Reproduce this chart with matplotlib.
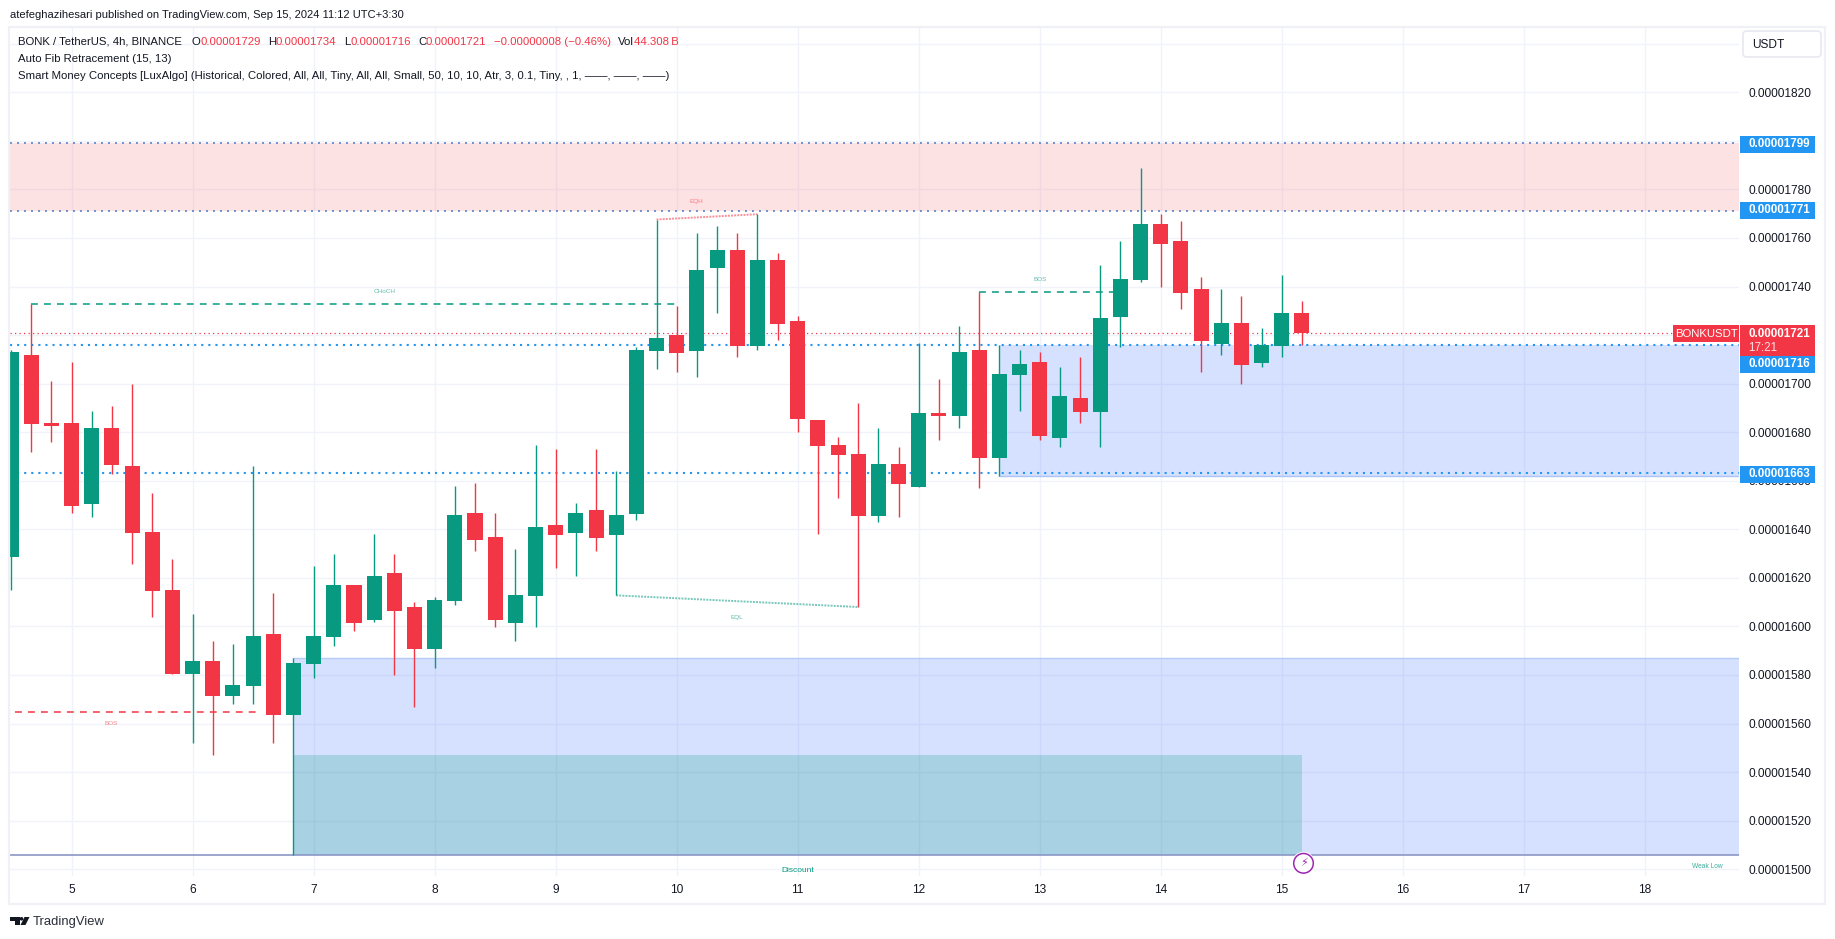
import matplotlib
matplotlib.use("Agg")
import matplotlib.pyplot as plt
from matplotlib.patches import Rectangle, FancyBboxPatch, Circle, Polygon
from matplotlib.transforms import Affine2D
import numpy as np

W, H = 1835, 939
FONT = "Liberation Sans"
GREEN = "#089981"
RED = "#f23645"
BLUE = "#2196f3"
INK = "#131722"
GRID = "#f0f3fa"

# prices are in units of 0.00000001
opens = [1628.7, 1711.8, 1683.8, 1683.8, 1650.4, 1681.7, 1666.1, 1638.9, 1615.0, 1580.4, 1585.8, 1571.4, 1575.5, 1596.9, 1563.5,
         1584.5, 1595.7, 1617.1, 1602.7, 1622.0, 1608.0, 1590.7, 1610.5, 1646.7, 1636.8, 1601.4, 1612.5, 1641.8, 1638.5, 1648.0,
         1637.7, 1646.3, 1713.4, 1720.0, 1713.4, 1747.6, 1755.0, 1715.5, 1750.9, 1725.8, 1685.0, 1674.7, 1671.0, 1645.4, 1666.9,
         1657.4, 1687.9, 1686.6, 1713.8, 1669.3, 1703.5, 1708.9, 1677.6, 1694.1, 1688.3, 1727.4, 1742.7, 1765.7, 1758.7, 1738.9,
         1716.3, 1725.0, 1708.5, 1715.5, 1729.0]
closes = [1713.0, 1683.4, 1682.6, 1649.6, 1681.7, 1666.5, 1638.5, 1614.6, 1580.4, 1585.8, 1571.4, 1575.9, 1596.1, 1563.5, 1585.0,
          1596.1, 1617.1, 1601.4, 1620.8, 1606.4, 1590.7, 1610.9, 1645.9, 1635.6, 1602.7, 1613.0, 1641.0, 1637.7, 1646.7, 1636.4,
          1645.9, 1713.8, 1718.8, 1712.6, 1746.8, 1755.0, 1715.5, 1750.9, 1724.5, 1685.4, 1674.3, 1670.6, 1645.4, 1666.9, 1658.6,
          1687.9, 1686.6, 1713.0, 1669.3, 1703.9, 1708.1, 1678.4, 1694.9, 1688.3, 1727.0, 1743.1, 1765.7, 1757.5, 1737.3, 1717.5,
          1725.0, 1707.7, 1715.9, 1729.1, 1721.0]
highs = [1713.9, 1732.8, 1701.1, 1708.9, 1688.7, 1690.8, 1699.9, 1655.0, 1627.8, 1605.1, 1594.0, 1592.8, 1666.1, 1613.8, 1587.0,
         1624.9, 1629.8, 1617.1, 1638.1, 1629.8, 1610.1, 1612.1, 1657.8, 1659.1, 1646.7, 1631.9, 1674.7, 1673.1, 1650.8, 1673.1,
         1664.0, 1715.1, 1767.6, 1731.9, 1762.0, 1764.9, 1762.0, 1769.8, 1753.8, 1727.8, 1685.0, 1678.0, 1692.0, 1681.7, 1673.9,
         1716.7, 1701.9, 1723.7, 1737.6, 1715.9, 1713.8, 1713.0, 1706.8, 1710.9, 1748.8, 1758.7, 1788.8, 1769.8, 1767.0, 1743.9,
         1738.9, 1736.1, 1722.9, 1744.7, 1734.0]
lows = [1615.0, 1671.9, 1676.0, 1646.7, 1645.1, 1662.8, 1625.7, 1603.9, 1580.4, 1552.0, 1547.1, 1568.1, 1568.1, 1552.0, 1505.9,
        1578.8, 1592.0, 1598.1, 1601.8, 1580.0, 1566.8, 1582.9, 1608.8, 1631.1, 1599.8, 1594.0, 1599.8, 1624.1, 1620.8, 1631.1,
        1613.0, 1643.8, 1706.0, 1704.8, 1702.7, 1729.1, 1710.9, 1713.8, 1717.9, 1680.0, 1638.0, 1652.9, 1608.0, 1643.0, 1645.0,
        1657.4, 1676.8, 1681.7, 1657.0, 1661.9, 1688.7, 1676.8, 1673.9, 1683.8, 1673.9, 1715.1, 1741.8, 1739.8, 1730.7, 1704.8,
        1711.8, 1699.8, 1706.8, 1711.0, 1716.0]
first_bar = -3

day_labels = ["5", "6", "7", "8", "9", "10", "11", "12", "13", "14", "15", "16", "17", "18"]
bars_per_day = 6
price_ticks = [1500, 1520, 1540, 1560, 1580, 1600, 1620, 1640, 1660, 1680, 1700, 1720, 1740, 1760, 1780, 1820, 1800, 1840]
price_labels_hidden = [1800, 1840]

fib_levels = [1799, 1771, 1716, 1663]
last_price = 1721
zone_bottom = 1505.9

plt.rcParams["font.family"] = [FONT, "DejaVu Sans"]
fig = plt.figure(figsize=(W / 100, H / 100), dpi=100, facecolor="white")
px = Affine2D().scale(1, -1).translate(0, H)  # top-left pixel coordinates, for the page furniture

ax = fig.add_axes([9.5 / W, 1 - 876 / H, (1739 - 9.5) / W, (876 - 28) / H])
ax.set_xlim(-3.08, 82.67)
ax.set_ylim(1497.2, 1846.5)
ax.set_axisbelow(True)
ax.grid(True, color=GRID, lw=1.0)
for s in ax.spines.values():
    s.set_visible(False)

ax.set_xticks(np.arange(len(day_labels)) * bars_per_day)
ax.set_xticklabels(day_labels, fontsize=8.6, color=INK)
ax.yaxis.tick_right()
ax.set_yticks(price_ticks)
ax.set_yticklabels(["" if p in price_labels_hidden else "0.0000%d" % p for p in price_ticks], fontsize=8.6, color=INK)
ax.tick_params(axis="both", length=0)
ax.tick_params(axis="y", pad=6.5)
ax.tick_params(axis="x", pad=6)

# zones
x_all = np.array(ax.get_xlim())
ax.fill_between(x_all, 1771, 1799, color=RED, alpha=0.14, lw=0, zorder=1)
ax.fill_between([46, x_all[1]], 1662, 1716, color="#2962ff", alpha=0.19, lw=0, zorder=1)
ax.fill_between([11, x_all[1]], zone_bottom, 1586.9, color="#2962ff", alpha=0.19, lw=0, zorder=1)
ax.fill_between([11, 61], zone_bottom, 1547.1, color="#089981", alpha=0.22, lw=0, zorder=1.1)
ax.plot([46, x_all[1]], [1662, 1662], color="#aac4f7", lw=1, zorder=1.2)
ax.plot([11, x_all[1]], [1586.9, 1586.9], color="#b5ccf8", lw=1, zorder=1.2)
ax.axhline(zone_bottom, color="#8b97c6", lw=1.2, zorder=1.2)

# fib levels and last price
ax.axhline(1799, color="#6d8fcc", lw=1.4, ls=(0, (1, 2.6)), zorder=1.5)
ax.axhline(1771, color="#6d8fcc", lw=1.4, ls=(0, (1, 2.6)), zorder=1.5)
ax.axhline(1716, color=BLUE, lw=1.5, ls=(0, (1, 2.4)), zorder=1.5)
ax.axhline(1663, color=BLUE, lw=1.5, ls=(0, (1, 2.4)), zorder=1.5)
ax.axhline(last_price, color=RED, lw=0.9, ls=(0, (1, 2.6)), zorder=1.5)

# structure lines
ax.plot([-2, 30], [1732.7, 1732.7], color=GREEN, lw=1.1, ls=(0, (4.5, 4)), zorder=1.6)
ax.plot([45, 51.7], [1737.6, 1737.6], color=GREEN, lw=1.1, ls=(0, (4.5, 4)), zorder=1.6)
ax.plot([-2.8, 9.4], [1564.6, 1564.6], color=RED, lw=1.1, ls=(0, (4.5, 4)), zorder=1.6)
ax.plot([29, 34], [1767.6, 1769.8], color=RED, alpha=0.55, lw=1.4, ls=(0, (1, 0.6)), zorder=1.6)
ax.plot([27, 39], [1612.8, 1608.0], color=GREEN, alpha=0.55, lw=1.4, ls=(0, (1, 0.6)), zorder=1.6)

# candles
x = first_bar + np.arange(len(opens))
o, c, hi, lo = map(np.array, (opens, closes, highs, lows))
cols = [GREEN if b >= a else RED for a, b in zip(o, c)]
ax.vlines(x, lo, hi, colors=cols, lw=1.0, zorder=2)
ax.bar(x, np.abs(c - o), bottom=np.minimum(o, c), width=0.745, color=cols, lw=0, zorder=2.1)

# small chart labels
small = dict(ha="center", va="center", zorder=3)
ax.text(15.5, 1737.9, "CHoCH", fontsize=4.6, color=GREEN, alpha=0.65, **small)
ax.text(31, 1775, "EQH", fontsize=4.6, color=RED, alpha=0.6, **small)
ax.text(33, 1603.5, "EQL", fontsize=4.6, color=GREEN, alpha=0.65, **small)
ax.text(48, 1743, "BOS", fontsize=4.6, color=GREEN, alpha=0.65, **small)
ax.text(1.94, 1560.2, "BOS", fontsize=4.6, color=RED, alpha=0.6, **small)
ax.text(36, 1499.4, "Discount", fontsize=6, color=GREEN, **small)
ax.text(81.1, 1501, "Weak Low", fontsize=4.8, color=GREEN, alpha=0.8, **small)

# page frame
fig.add_artist(Rectangle((9, 27), 1816, 877, transform=px, fill=False, ec="#eff1f6", lw=1.6, zorder=0.5))


def badge(x0, y0, x1, y1, color):
    fig.add_artist(Rectangle((x0, y0), x1 - x0, y1 - y0, transform=px, fc=color, ec="none", zorder=2))


def ptext(x0, y0, s, **kw):
    kw.setdefault("va", "center")
    kw.setdefault("fontsize", 8.6)
    kw.setdefault("color", INK)
    fig.text(x0 / W, 1 - y0 / H, s, zorder=4, **kw)


# price badges
for level, yc in zip(fib_levels, [144.3, 210.3, 364.3, 474.3]):
    badge(1740, yc - 8.5, 1815, yc + 8.5, BLUE)
    ptext(1748, yc, "0.0000%d" % level, color="white", fontweight="bold", fontsize=8.4)
badge(1740, 325, 1815, 355.7, RED)
ptext(1748, 333.7, "0.0000%d" % last_price, color="white", fontweight="bold", fontsize=8.4)
ptext(1748, 347.7, "17:21", color="#ffe0e3", fontsize=8.4)
badge(1673, 325, 1739, 342, RED)
ptext(1706, 333.7, "BONKUSDT", color="white", ha="center", fontsize=8.2)

fig.add_artist(FancyBboxPatch((1745, 33), 74, 22, boxstyle="round,pad=2,rounding_size=4", transform=px,
                              fc="white", ec="#e6e9f0", lw=1.2, zorder=2))
ptext(1752, 44.6, "USDT", fontsize=8.6)

# header and legend
ptext(10, 15, "atefeghazihesari published on TradingView.com, Sep 15, 2024 11:12 UTC+3:30", fontsize=8)
ptext(18, 41.7, "BONK / TetherUS, 4h, BINANCE", fontsize=8.2)
for xp, label in [(191.5, "O"), (268, "H"), (344, "L"), (418, "C"), (617.5, "Vol")]:
    ptext(xp, 41.7, label, fontsize=8.2)
for xp, label in [(200, "0.00001729"), (275.5, "0.00001734"), (350, "0.00001716"), (425.6, "0.00001721"),
                  (493.5, "\u22120.00000008 (\u22120.46%)"), (634, "44.308\u2009B")]:
    ptext(xp, 41.7, label, fontsize=8.2, color=RED)
ptext(18, 59, "Auto Fib Retracement (15, 13)", fontsize=8.2)
ptext(18, 76, "Smart Money Concepts [LuxAlgo] (Historical, Colored, All, All, Tiny, All, All, Small, 50, 10, 10, "
              "Atr, 3, 0.1, Tiny, , 1, \u2014\u2014, \u2014\u2014, \u2014\u2014)", fontsize=8.2)

# lightning marker
fig.add_artist(Circle((1303.5, 863.3), 11.5, transform=px, fc="white", ec="none", zorder=2))
fig.add_artist(Circle((1303.5, 863.3), 9.8, transform=px, fc="white", ec="#9c27b0", lw=1.1, zorder=2.1))
fig.text(1303.5 / W, 1 - 863.3 / H, "\u26a1", family="DejaVu Sans", fontsize=8, color="#9c27b0",
         ha="center", va="center", zorder=4)

# TradingView mark
logo = "#131722"
fig.add_artist(Polygon([(10, 917), (20, 917), (20, 925), (15, 925), (15, 921), (10, 921)], transform=px, fc=logo, ec="none", zorder=2))
fig.add_artist(Circle((21.5, 918.8), 1.8, transform=px, fc=logo, ec="none", zorder=2))
fig.add_artist(Polygon([(24.5, 917), (29.5, 917), (25.5, 925), (20.5, 925)], transform=px, fc=logo, ec="none", zorder=2))
ptext(33, 921.7, "TradingView", fontsize=9.4, color="#2a2e39")

fig.savefig("out.png", dpi=100)
